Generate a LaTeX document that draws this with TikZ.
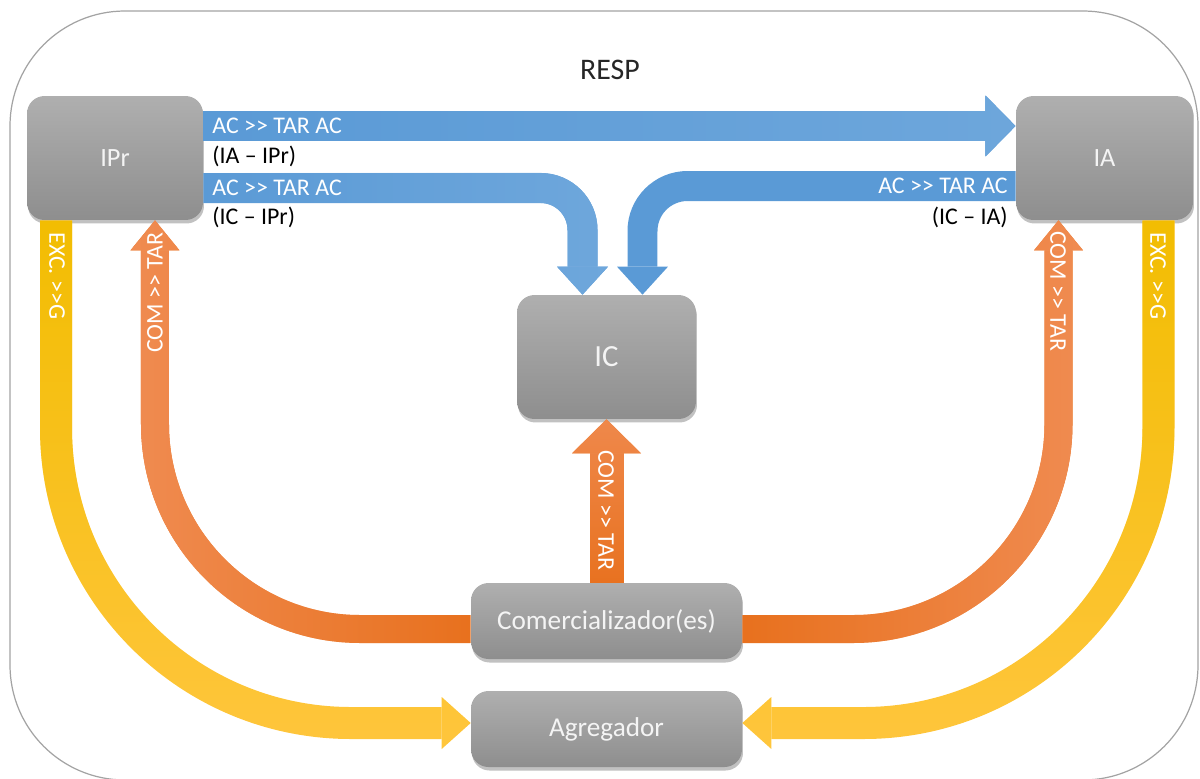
\documentclass[tikz,border=0pt]{standalone}
\usepackage{fontspec}
\setmainfont{Carlito}
\usetikzlibrary{arrows.meta,shadows,fadings,calc}
\definecolor{frameC}{HTML}{A3A3A3}
\definecolor{boxT}{HTML}{AFAFAF}
\definecolor{boxB}{HTML}{8E8E8E}
\definecolor{boxText}{HTML}{F4F4F4}
\definecolor{blueC}{HTML}{5A9AD6}
\definecolor{blueL}{HTML}{6EA7DC}
\definecolor{orD}{HTML}{E8701C}
\definecolor{orL}{HTML}{F08B50}
\definecolor{yeD}{HTML}{F2BD00}
\definecolor{yeL}{HTML}{FFC63C}
\tikzfading[name=opL, left color=transparent!0, right color=transparent!100]
\tikzfading[name=opR, left color=transparent!100, right color=transparent!0]
\tikzfading[name=opT, top color=transparent!0, bottom color=transparent!100]
\newcommand\ggt{>\kern0pt>}
\begin{document}
\begin{tikzpicture}[x=0.02cm, y=-0.02cm,
  box/.style={rounded corners=0.35cm, top color=boxT, bottom color=boxB, draw=none,
    text=boxText, inner sep=0pt,
    drop shadow={shadow xshift=0.02cm, shadow yshift=-0.07cm, opacity=0.35, fill=black!70}},
  wl/.style={text=white, inner sep=0pt, font=\fontsize{13.6}{16}\selectfont},
  bl/.style={text=black, inner sep=0pt, font=\fontsize{13.6}{16}\selectfont},
  blueA/.style={draw=blueC, line width=0.6cm,
    -{Triangle[length=0.6cm, width=1.22cm, line width=0pt]}},
  blueB/.style={draw=blueC, line width=0.6cm,
    -{Triangle[length=0.56cm, width=1.02cm, line width=0pt]}},
  orS/.style={draw=orD, line width=0.56cm,
    -{Triangle[length=0.6cm, width=0.98cm, line width=0pt]}},
  orM/.style={draw=orD, line width=0.68cm,
    -{Triangle[length=0.68cm, width=1.38cm, line width=0pt]}},
  yeS/.style={draw=yeL, line width=0.64cm,
    -{Triangle[length=0.58cm, width=1.04cm, line width=0pt]}},
  shade/.style 2 args={postaction={draw=#1, path fading=#2, fit fading=true}}
]
\useasboundingbox (0,0) rectangle (1200,778);
\clip (0,0) rectangle (1200,778);

% outer frame
\draw[frameC, line width=0.7pt, rounded corners=2.3cm] (10,11) rectangle (1198,780);
\node[font=\fontsize{17}{20}\selectfont, text=black!85, inner sep=0pt] (resp) at (610,70) {RESP};

% nodes
\node[box, minimum width=3.52cm, minimum height=2.48cm, font=\fontsize{15}{18}\selectfont] (ipr) at (115,158) {IPr};
\node[box, minimum width=3.54cm, minimum height=2.48cm, font=\fontsize{15}{18}\selectfont] (ia) at (1104.5,158) {IA};
\node[box, minimum width=3.58cm, minimum height=2.48cm, font=\fontsize{17.5}{20}\selectfont] (ic) at (606.5,357) {IC};
\node[box, minimum width=5.42cm, minimum height=1.52cm, font=\fontsize{15.5}{18}\selectfont] (com) at (606.5,621) {Comercializador(es)};
\node[box, minimum width=5.42cm, minimum height=1.52cm, font=\fontsize{15.5}{18}\selectfont] (agg) at (606.5,729) {Agregador};

% blue connectors
\draw[blueA, shade={blueL}{opR}] (ipr.east |- 0,126) -- (ia.west |- 0,126);
\draw[blueB, shade={blueL}{opR}, rounded corners=0.84cm]
  (ipr.east |- 0,188) -- ([xshift=-0.48cm]ic.north |- 0,188) -- ([xshift=-0.48cm]ic.north);
\draw[blueB, rounded corners=0.9cm]
  (ia.west |- 0,186) -- ([xshift=0.72cm]ic.north |- 0,186) -- ([xshift=0.72cm]ic.north);

% orange connectors
\draw[orS, shade={orL}{opL}, rounded corners=4.1cm]
  (com.west |- 0,629) -- ([xshift=0.8cm]ipr.south |- 0,629) -- ([xshift=0.8cm]ipr.south);
\draw[orS, shade={orL}{opR}, rounded corners=4.1cm]
  (com.east |- 0,629) -- ([xshift=-0.92cm]ia.south |- 0,629) -- ([xshift=-0.92cm]ia.south);
\draw[orM, shade={orL}{opT}] (com.north) -- (ic.south);

% yellow connectors
\draw[yeS, shade={yeD}{opT}, rounded corners=5.9cm]
  ([xshift=-1.18cm]ipr.south) -- ([xshift=-1.18cm]ipr.south |- 0,723) -- (agg.west |- 0,723);
\draw[yeS, shade={yeD}{opT}, rounded corners=5.9cm]
  ([xshift=1.08cm]ia.south) -- ([xshift=1.08cm]ia.south |- 0,723) -- (agg.east |- 0,723);

% labels
\node[wl, anchor=west] (t1) at (212,126) {AC \ggt{} TAR AC};
\node[bl, anchor=west] (t1b) at (212,156) {(IA – IPr)};
\node[wl, anchor=west] (t2) at (212,188) {AC \ggt{} TAR AC};
\node[bl, anchor=west] (t2b) at (212,217) {(IC – IPr)};
\node[wl, anchor=east] (t3) at (1008,186) {AC \ggt{} TAR AC};
\node[bl, anchor=east] (t3b) at (1008,217) {(IC – IA)};

\node[wl, rotate=-90] (y1) at (57,276) {EXC. \ggt{}G};
\node[wl, rotate=90] (o1) at (155,293) {COM \ggt{} TAR};
\node[wl, rotate=-90] (o2) at (1058,291) {COM \ggt{} TAR};
\node[wl, rotate=-90] (y2) at (1158,276) {EXC. \ggt{}G};
\node[wl, rotate=-90] (o3) at (606,510) {COM \ggt{} TAR};
\end{tikzpicture}
\end{document}
